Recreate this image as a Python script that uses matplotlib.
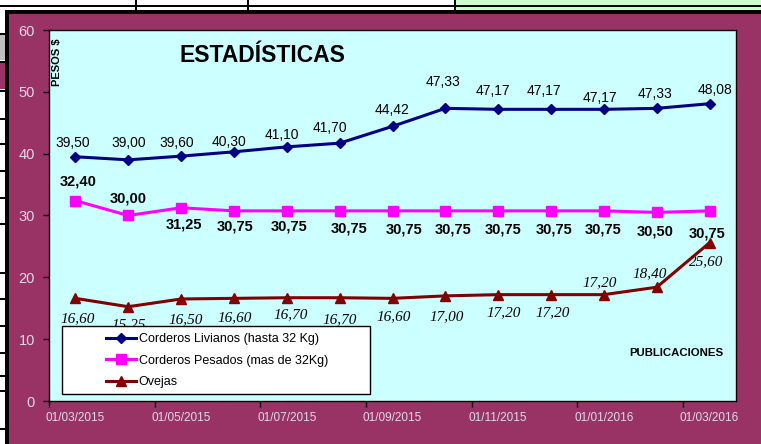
import matplotlib
matplotlib.use("Agg")
import matplotlib.pyplot as plt
from matplotlib.patches import Rectangle
from matplotlib.lines import Line2D

# ---------------- data ----------------
dates = ["01/03/2015", "01/04/2015", "01/05/2015", "01/06/2015", "01/07/2015",
         "01/08/2015", "01/09/2015", "01/10/2015", "01/11/2015", "01/12/2015",
         "01/01/2016", "01/02/2016", "01/03/2016"]
livianos = [39.50, 39.00, 39.60, 40.30, 41.10, 41.70, 44.42, 47.33, 47.17, 47.17, 47.17, 47.33, 48.08]
pesados = [32.40, 30.00, 31.25, 30.75, 30.75, 30.75, 30.75, 30.75, 30.75, 30.75, 30.75, 30.50, 30.75]
ovejas = [16.60, 15.25, 16.50, 16.60, 16.70, 16.70, 16.60, 17.00, 17.20, 17.20, 17.20, 18.40, 25.60]
series_names = ["Corderos Livianos (hasta 32 Kg)", "Corderos Pesados (mas de 32Kg)", "Ovejas"]
y_ticks = [0, 10, 20, 30, 40, 50, 60]

# ---------------- style: label offsets in pixels (dx, dy up) ----------------
off_liv = [(-3, 14), (0, 17), (-4, 13), (-5, 10), (-5, 12), (-10, 15), (0, 16),
           (-2, 26), (-5, 18), (-7, 18), (-4, 11), (-2, 14), (5, 14)]
off_pes = [(3, 19), (0, 17), (3, -17), (1, -16), (2, -16), (9, -18), (12, -19),
           (8, -19), (5, -19), (3, -19), (-1, -19), (-2, -19), (-2, -23)]
off_ove = [(2, -20), (0, -18), (5, -21), (1, -19), (4, -17), (0, -22), (1, -18),
           (1, -21), (5, -18), (2, -18), (-4, 12), (-7, 14), (-3, -19)]

W, H = 761, 444
MAROON = "#993366"
fig = plt.figure(figsize=(W / 100, H / 100), dpi=100, facecolor=MAROON)


def prect(x, y, w, h, color, z=0):
    fig.add_artist(Rectangle((x / W, 1 - (y + h) / H), w / W, h / H,
                             transform=fig.transFigure, facecolor=color,
                             edgecolor="none", zorder=z))


# spreadsheet surroundings
prect(0, 0, W, 11, "white")
prect(455, 0, W - 455, 11, "#ccffcc")
prect(0, 5, W, 2, "black")
prect(135, 0, 2, 11, "black")
prect(247, 0, 2, 11, "black")
prect(454, 0, 2, 11, "black")
prect(0, 11, 9, H - 11, "white")
prect(0, 35, 5, 25, "#c0c0c0")
prect(0, 62, 5, 27, MAROON)
for yy in [33, 61, 90, 118, 143, 170, 197, 223, 272, 298, 325, 352, 375, 390, 428]:
    prect(0, yy, 6, 2, "black")
# chart area border
prect(5, 10, 4, H - 10, "black")
prect(5, 10, W - 5, 4, "black")

# ---------------- axes ----------------
ax = fig.add_axes([49 / W, 1 - 401 / H, 687 / W, 371 / H])
ax.set_facecolor("#ccffff")
x = list(range(len(dates)))

ax.plot(x, livianos, color="#000080", lw=2.2, marker="D", ms=5, zorder=3)
ax.plot(x, pesados, color="#ff00ff", lw=2.2, marker="s", ms=7, zorder=3)
ax.plot(x, ovejas, color="#800000", lw=2.2, marker="^", ms=7.5, zorder=3)

ax.set_xlim(-0.5, len(dates) - 0.5)
ax.set_ylim(0, 60)
ax.set_yticks(y_ticks)
ax.set_yticklabels([str(v) for v in y_ticks], fontsize=10.5, color="#e4d8e8",
                   family="Liberation Sans")
ax.set_xticks(x[::2])
ax.set_xticklabels(dates[::2], fontsize=8.5, color="#e4d8e8", family="Liberation Sans")
ax.set_xticks([i - 0.5 for i in x[::2]][:-1] + [x[-1] - 0.5 + 0.0001 - 1], minor=True)
ax.set_xticks([i - 0.5 for i in range(0, len(dates), 2)], minor=True)
ax.tick_params(axis="x", which="major", length=0, pad=8)
ax.tick_params(axis="x", which="minor", length=4, width=1, color="black", direction="out")
ax.tick_params(axis="y", length=4, width=1, color="black", direction="out", pad=6)
for s in ax.spines.values():
    s.set_color("black")
    s.set_linewidth(1)

PT = 0.72  # px -> points


def fmt(v):
    return f"{v:.2f}".replace(".", ",")


for i, v in enumerate(livianos):
    dx, dy = off_liv[i]
    ax.annotate(fmt(v), (i, v), xytext=(dx * PT, dy * PT), textcoords="offset points",
                ha="center", va="center", fontsize=10, family="Liberation Sans",
                color="black", zorder=2)
for i, v in enumerate(pesados):
    dx, dy = off_pes[i]
    ax.annotate(fmt(v), (i, v), xytext=(dx * PT, dy * PT), textcoords="offset points",
                ha="center", va="center", fontsize=10.5, fontweight="bold",
                family="Liberation Sans", color="black", zorder=2)
for i, v in enumerate(ovejas):
    dx, dy = off_ove[i]
    ax.annotate(fmt(v), (i, v), xytext=(dx * PT, dy * PT), textcoords="offset points",
                ha="center", va="center", fontsize=11, style="italic",
                family="Liberation Serif", color="black", zorder=2)

# titles
fig.text(262 / W, 1 - 55 / H, "ESTADÍSTICAS", ha="center", va="center",
         fontsize=16.5, fontweight="bold", family="Liberation Sans")
fig.text(57 / W, 1 - 62 / H, "PESOS $", ha="center", va="center", rotation=90,
         fontsize=8, fontweight="bold", family="Liberation Sans")
fig.text(676 / W, 1 - 353 / H, "PUBLICACIONES", ha="center", va="center",
         fontsize=8.2, fontweight="bold", family="Liberation Sans")

# legend box
ax.add_patch(Rectangle((13 / 687, 7 / 371), 308 / 687, 68 / 371, transform=ax.transAxes,
                       facecolor="white", edgecolor="black", lw=1, zorder=4.5))
handles = [
    Line2D([], [], color="#000080", lw=2.2, marker="D", ms=5),
    Line2D([], [], color="#ff00ff", lw=2.2, marker="s", ms=7),
    Line2D([], [], color="#800000", lw=2.2, marker="^", ms=7.5),
]
leg = ax.legend(handles, series_names, loc="center left",
                bbox_to_anchor=((100 - 49) / 687, (401 - 360.5) / 371),
                frameon=False, borderpad=0, handlelength=2.4, handletextpad=0.2,
                labelspacing=0.75, prop={"family": "Liberation Sans", "size": 9})
leg.set_zorder(5)

fig.savefig("out.png", dpi=100, facecolor=MAROON)
